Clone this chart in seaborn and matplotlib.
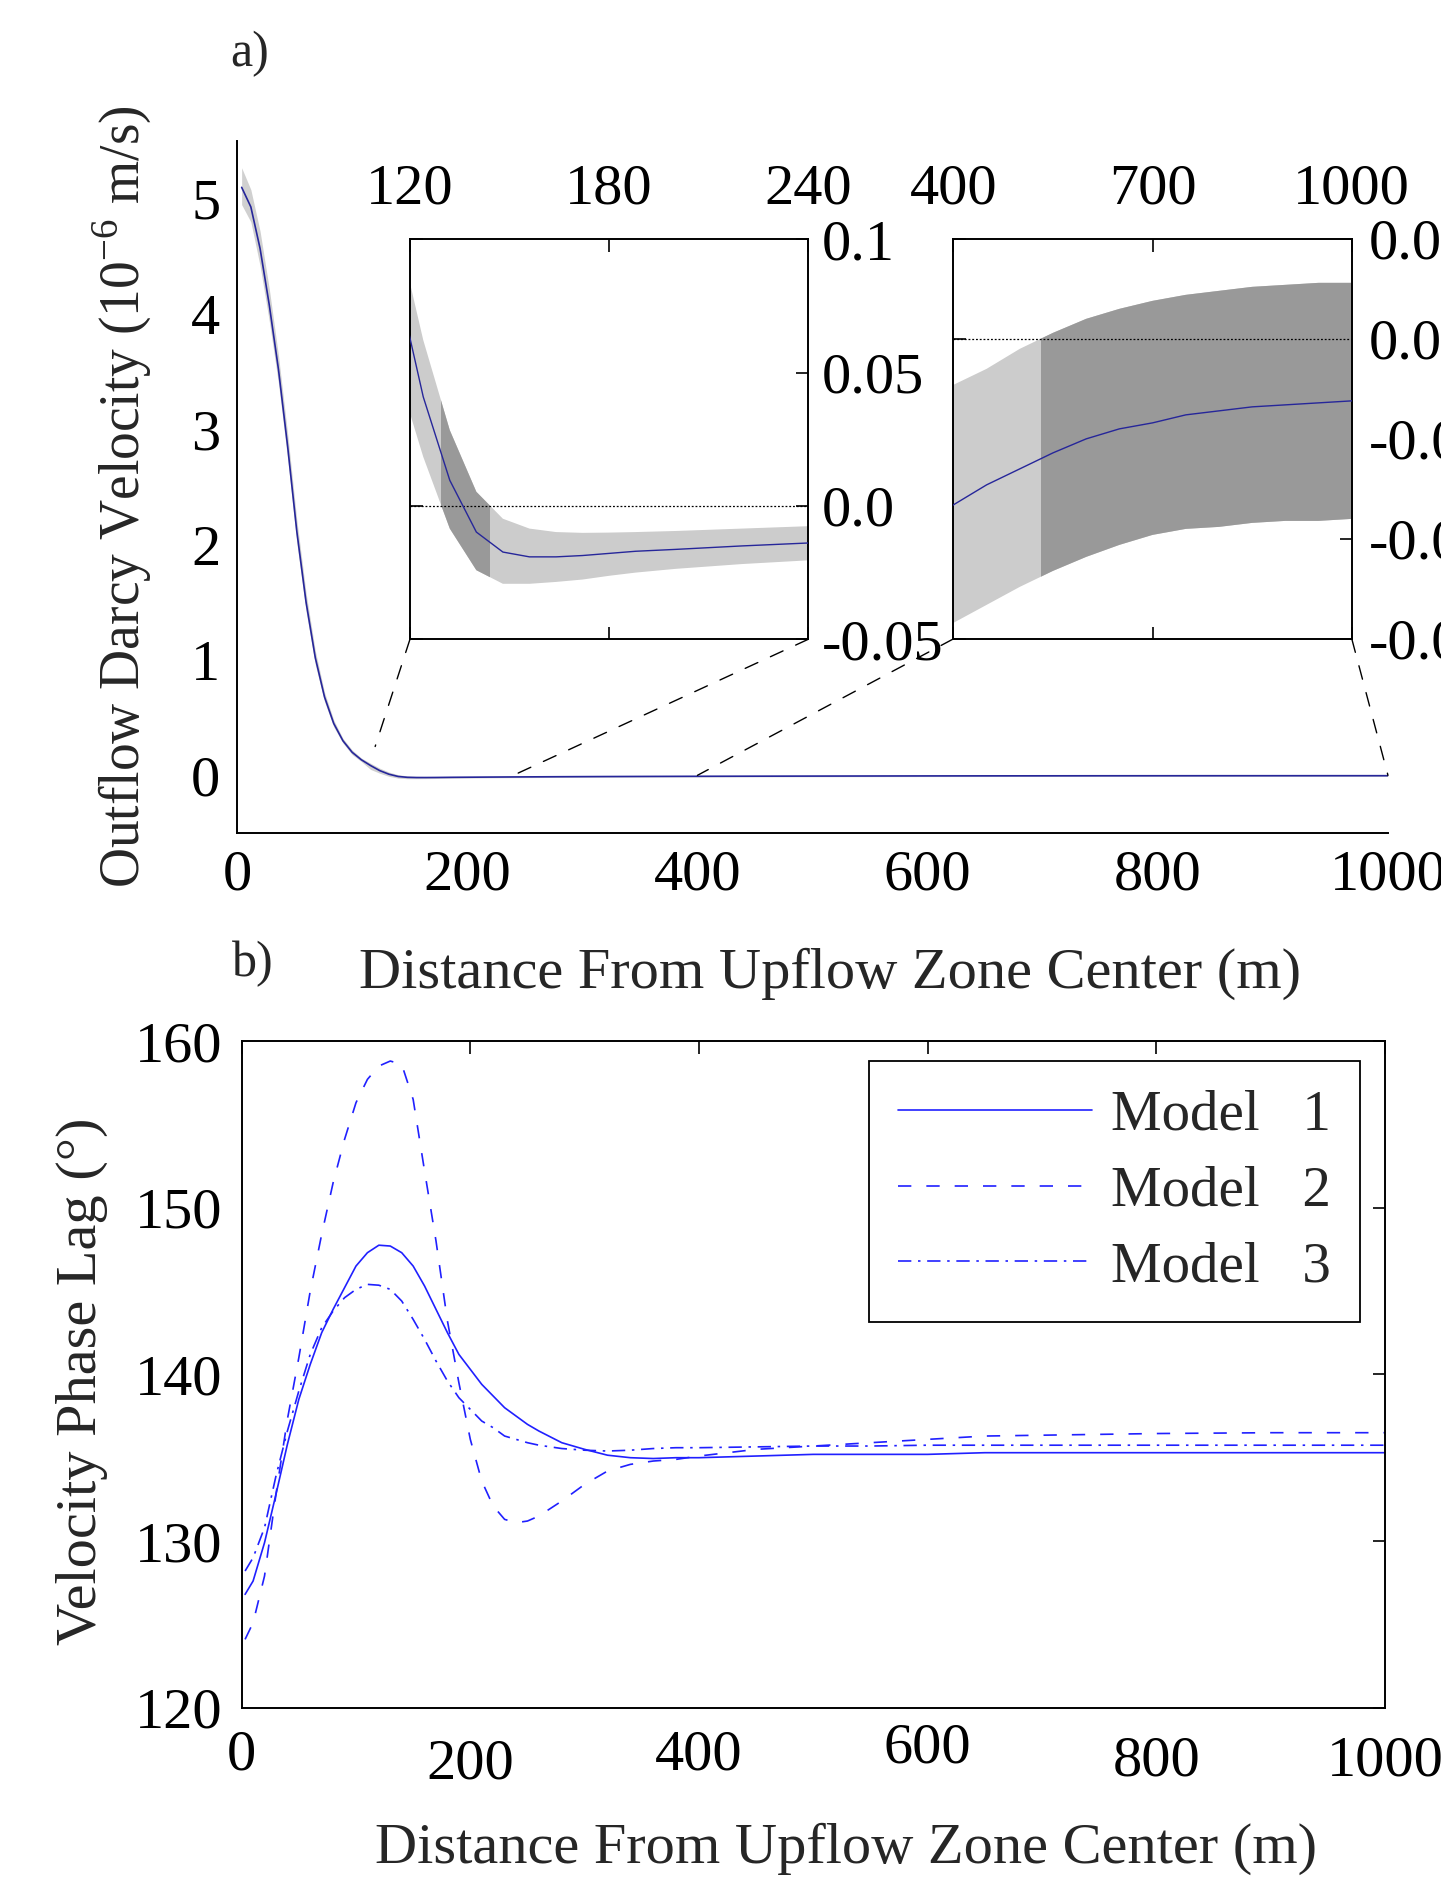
import numpy as np
import pandas as pd
import seaborn as sns
import matplotlib
matplotlib.use("Agg")
import matplotlib.pyplot as plt
from matplotlib.patches import Rectangle, ConnectionPatch

# ---- panel a: outflow Darcy velocity (1e-6 m/s) with uncertainty band ----
dist_a = [4, 12, 20, 28, 36, 44, 52, 60, 68, 76, 84, 92, 100, 108, 116, 124, 132, 140,
          148, 156, 164, 172, 180, 188, 200, 220, 240, 280, 320, 360, 400, 450, 500,
          550, 600, 650, 700, 750, 800, 850, 900, 950, 1000]
vel_mean = [5.10, 4.93, 4.57, 4.08, 3.52, 2.85, 2.11, 1.50, 1.02, 0.68, 0.45, 0.30, 0.20,
            0.135, 0.085, 0.0409, 0.0096, -0.0098, -0.0173, -0.0191, -0.0191, -0.0186,
            -0.0178, -0.0170, -0.0163, -0.0150, -0.0139, -0.0120, -0.0105, -0.0093,
            -0.0083, -0.0073, -0.0065, -0.0057, -0.0050, -0.0045, -0.0042, -0.0038,
            -0.0036, -0.0034, -0.0033, -0.0032, -0.0031]
vel_upper = [5.27, 5.08, 4.72, 4.22, 3.64, 2.96, 2.21, 1.58, 1.08, 0.72, 0.48, 0.32, 0.22,
             0.15, 0.105, 0.0622, 0.0284, 0.0053, -0.0048, -0.0085, -0.0098, -0.0101,
             -0.0100, -0.0098, -0.0094, -0.0085, -0.0076, -0.0060, -0.0045, -0.0033,
             -0.0023, -0.0015, -0.0005, 0.0003, 0.0010, 0.0015, 0.0019, 0.0022, 0.0024,
             0.0026, 0.0027, 0.0028, 0.0028]
vel_lower = [4.95, 4.80, 4.42, 3.94, 3.40, 2.74, 2.01, 1.42, 0.96, 0.64, 0.42, 0.28, 0.18,
             0.12, 0.051, 0.0184, -0.0085, -0.0241, -0.0292, -0.0292, -0.0285, -0.0276,
             -0.0262, -0.0250, -0.0236, -0.0218, -0.0204, -0.0182, -0.0163, -0.0150,
             -0.0142, -0.0133, -0.0124, -0.0116, -0.0109, -0.0103, -0.0098, -0.0095,
             -0.0094, -0.0092, -0.0091, -0.0091, -0.0090]

# ---- panel b: velocity phase lag (deg) for three models ----
dist_b = [3, 10, 20, 30, 40, 50, 60, 70, 80, 90, 100, 110, 120, 130, 140, 150, 160, 170,
          180, 190, 200, 210, 220, 230, 240, 250, 260, 280, 300, 320, 340, 360, 380, 400,
          450, 500, 550, 600, 650, 700, 800, 900, 1000]
phase_m1 = [126.8, 127.6, 129.9, 132.8, 135.8, 138.5, 140.6, 142.5, 143.9, 145.2, 146.5,
            147.3, 147.75, 147.7, 147.3, 146.5, 145.3, 143.9, 142.5, 141.2, 140.3, 139.4,
            138.7, 138.0, 137.5, 137.0, 136.6, 135.9, 135.5, 135.15, 135.0, 134.95, 135.0,
            135.0, 135.1, 135.2, 135.2, 135.2, 135.3, 135.3, 135.3, 135.3, 135.3]
phase_m2 = [124.1, 125.1, 127.9, 132.8, 137.3, 141.0, 145.0, 148.4, 151.5, 154.1, 156.3,
            157.7, 158.5, 158.8, 158.6, 156.5, 152.2, 148.0, 143.2, 139.5, 136.1, 133.6,
            132.1, 131.3, 131.1, 131.2, 131.5, 132.4, 133.4, 134.2, 134.6, 134.8, 134.9,
            135.1, 135.5, 135.7, 135.9, 136.1, 136.3, 136.35, 136.45, 136.5, 136.5]
phase_m3 = [128.2, 129.0, 130.8, 133.9, 136.6, 139.0, 141.2, 142.8, 143.8, 144.6, 145.1,
            145.4, 145.35, 145.1, 144.4, 143.3, 142.1, 140.8, 139.6, 138.6, 137.9, 137.2,
            136.8, 136.3, 136.1, 135.9, 135.75, 135.55, 135.45, 135.4, 135.45, 135.55,
            135.6, 135.6, 135.65, 135.7, 135.7, 135.75, 135.75, 135.75, 135.75, 135.75,
            135.75]
model_names = ["Model   1", "Model   2", "Model   3"]

sns.set_theme(style="white")
plt.rcParams["font.family"] = ["Liberation Serif", "DejaVu Serif"]
plt.rcParams["mathtext.fontset"] = "custom"
plt.rcParams["mathtext.rm"] = "Liberation Serif"
plt.rcParams["axes.edgecolor"] = "black"
plt.rcParams["axes.linewidth"] = 1.4

TICK = 42
LABEL = 42
LINE_A = "#26269a"
LINE_B = "#2020ff"

df_a = pd.DataFrame({"dist": dist_a, "vel": vel_mean, "lo": vel_lower, "hi": vel_upper})

fig = plt.figure(figsize=(14.41, 18.88), dpi=100)


def style_ticks(ax, **kw):
    ax.tick_params(direction="in", length=9, width=1.2, labelsize=TICK, colors="black", **kw)


def dark_band(ax):
    # darker where the uncertainty interval contains zero (limits must be set first)
    x = df_a["dist"].to_numpy(float)
    lo = df_a["lo"].to_numpy(float)
    hi = df_a["hi"].to_numpy(float)
    x0, x1 = ax.get_xlim()
    y0, y1 = ax.get_ylim()
    cuts = [x[0], x[-1]]
    for y in (lo, hi):
        for i in range(len(x) - 1):
            if y[i] * y[i + 1] < 0:
                cuts.append(x[i] - y[i] * (x[i + 1] - x[i]) / (y[i + 1] - y[i]))
    cuts = sorted(cuts)
    for a, b in zip(cuts[:-1], cuts[1:]):
        m = 0.5 * (a + b)
        a, b = max(a, x0), min(b, x1)
        if b <= a:
            continue
        if np.interp(m, x, lo) < 0 < np.interp(m, x, hi):
            patch = ax.fill_between(x, lo, hi, color="#999999", lw=0, zorder=1.5)
            patch.set_clip_path(Rectangle((a, y0), b - a, y1 - y0, transform=ax.transData))


# ---------------- panel a main ----------------
ax_a = fig.add_axes([0.1645, 0.5588, 0.7987, 0.3664])
ax_a.fill_between(df_a["dist"], df_a["lo"], df_a["hi"], color="#d0d0d0", lw=0)
sns.lineplot(data=df_a, x="dist", y="vel", ax=ax_a, color=LINE_A, lw=1.2, estimator=None)
ax_a.set_xlim(0, 1000)
ax_a.set_ylim(-0.5, 5.5)
ax_a.set_xticks(range(0, 1001, 200))
ax_a.set_yticks(range(0, 6))
ax_a.spines["top"].set_visible(False)
ax_a.spines["right"].set_visible(False)
style_ticks(ax_a, pad=12)
ax_a.set_ylabel("Outflow Darcy Velocity (10$^{\\mathregular{-6}}$ m/s)", fontsize=40)
ax_a.yaxis.set_label_coords(-0.072, 0.486)
ax_a.set_xlabel("Distance From Upflow Zone Center (m)", fontsize=LABEL)
ax_a.xaxis.set_label_coords(0.515, -0.165)
fig.text(0.1735, 0.9714, "a)", fontsize=36, ha="center", va="center")

# ---------------- inset 1 ----------------
ax_i1 = fig.add_axes([0.2845, 0.6614, 0.2764, 0.2119])
ax_i1.fill_between(df_a["dist"], df_a["lo"], df_a["hi"], color="#cccccc", lw=0, zorder=1)
sns.lineplot(data=df_a, x="dist", y="vel", ax=ax_i1, color=LINE_A, lw=1.0,
             estimator=None, zorder=3)
ax_i1.axhline(0, color="black", lw=0.9, ls=(0, (1.5, 1.5)), zorder=2)
ax_i1.set_xlim(120, 240)
ax_i1.set_ylim(-0.05, 0.1)
dark_band(ax_i1)
ax_i1.set_xticks([120, 180, 240])
ax_i1.set_yticks([0.1, 0.05, 0.0, -0.05])
ax_i1.set_yticklabels(["0.1", "0.05", "0.0", "-0.05"])
style_ticks(ax_i1, top=True, bottom=True, left=True, right=True,
            labeltop=True, labelbottom=False, labelleft=False, labelright=True)
ax_i1.tick_params(axis="x", pad=17)
ax_i1.tick_params(axis="y", pad=10)
ax_i1.set_xlabel("")
ax_i1.set_ylabel("")

# ---------------- inset 2 ----------------
ax_i2 = fig.add_axes([0.6616, 0.6616, 0.2765, 0.2119])
ax_i2.fill_between(df_a["dist"], df_a["lo"], df_a["hi"], color="#cccccc", lw=0, zorder=1)
sns.lineplot(data=df_a, x="dist", y="vel", ax=ax_i2, color=LINE_A, lw=1.0,
             estimator=None, zorder=3)
ax_i2.axhline(0, color="black", lw=0.9, ls=(0, (1.5, 1.5)), zorder=2)
ax_i2.set_xlim(400, 1000)
ax_i2.set_ylim(-0.015, 0.005)
dark_band(ax_i2)
ax_i2.set_xticks([400, 700, 1000])
ax_i2.set_yticks([0.005, 0.0, -0.005, -0.01, -0.015])
ax_i2.set_yticklabels(["0.005", "0.000", "-0.005", "-0.010", "-0.015"])
style_ticks(ax_i2, top=True, bottom=True, left=True, right=True,
            labeltop=True, labelbottom=False, labelleft=False, labelright=True)
ax_i2.tick_params(axis="x", pad=17)
ax_i2.tick_params(axis="y", pad=12)
ax_i2.set_xlabel("")
ax_i2.set_ylabel("")

# connector lines from insets to main axes
for axin, xa, ya, xb, yb in [(ax_i1, 120, -0.05, 120, 0.25), (ax_i1, 240, -0.05, 240, 0.0),
                             (ax_i2, 400, -0.015, 400, 0.0), (ax_i2, 1000, -0.015, 1000, 0.0)]:
    con = ConnectionPatch(xyA=(xa, ya), coordsA=axin.transData, xyB=(xb, yb),
                          coordsB=ax_a.transData, color="black", lw=1.0,
                          linestyle=(0, (10, 10)))
    fig.add_artist(con)

# ---------------- panel b ----------------
ax_b = fig.add_axes([0.1677, 0.0955, 0.7934, 0.3531])
styles = ["-", (0, (8, 9)), (0, (8, 4, 1.5, 4))]
for name, vals, ls in zip(model_names, [phase_m1, phase_m2, phase_m3], styles):
    sns.lineplot(x=dist_b, y=vals, ax=ax_b, color=LINE_B, lw=1.2, linestyle=ls,
                 estimator=None, label=name)
ax_b.set_xlim(0, 1000)
ax_b.set_ylim(120, 160)
ax_b.set_xticks(range(0, 1001, 200))
ax_b.set_yticks(range(120, 161, 10))
style_ticks(ax_b, top=True, right=True, pad=14)
for tick, off in zip(ax_b.xaxis.get_major_ticks(), [5, 11, 5, 0, 9, 9]):
    tick.set_pad(11 + off)
ax_b.set_ylabel("Velocity Phase Lag (°)", fontsize=LABEL)
ax_b.yaxis.set_label_coords(-0.117, 0.49)
ax_b.set_xlabel("Distance From Upflow Zone Center (m)", fontsize=LABEL)
ax_b.xaxis.set_label_coords(0.529, -0.172)
leg = ax_b.legend(loc="upper right", bbox_to_anchor=(0.978, 0.970), borderaxespad=0,
                  fontsize=41, handlelength=3.4, handletextpad=0.35, labelspacing=0.42,
                  borderpad=0.5, fancybox=False, framealpha=1)
leg.get_frame().set_edgecolor("black")
leg.get_frame().set_linewidth(1.3)
fig.text(0.1755, 0.4897, "b)", fontsize=36, ha="center", va="center")

fig.savefig("out.png", dpi=100)
